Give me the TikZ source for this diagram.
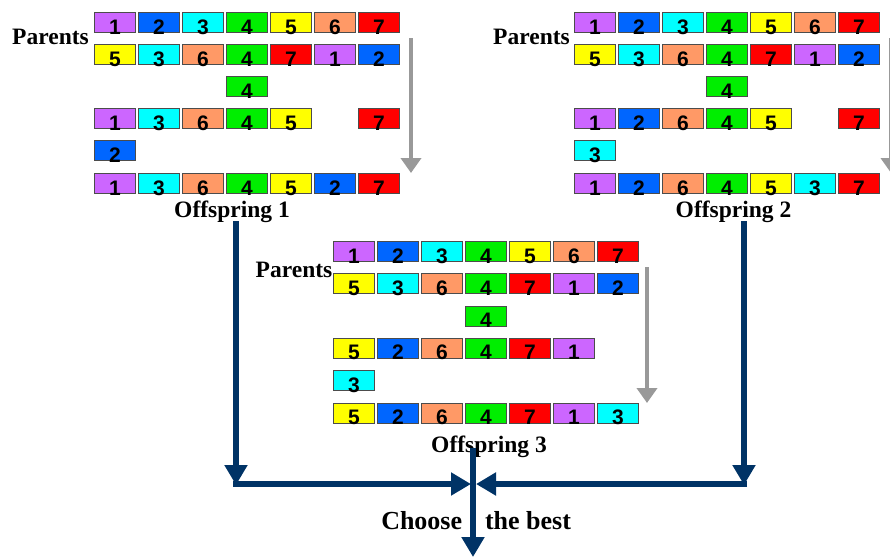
\documentclass[tikz,border=0pt]{standalone}
\usepackage{fontspec}
\setmainfont{Liberation Serif}
\newfontfamily\digitfam{Liberation Sans}
\usetikzlibrary{arrows.meta}
\definecolor{g1}{RGB}{204,102,255}
\definecolor{g2}{RGB}{0,102,255}
\definecolor{g3}{RGB}{0,255,255}
\definecolor{g4}{RGB}{0,238,0}
\definecolor{g5}{RGB}{255,255,0}
\definecolor{g6}{RGB}{255,153,102}
\definecolor{g7}{RGB}{255,0,0}
\definecolor{navy}{RGB}{0,51,102}
\definecolor{arrowgray}{RGB}{153,153,153}
\newcommand\dg[1]{\raisebox{-12pt}[0pt][0pt]{#1}}
\newcommand\garow[5]{%
  \foreach \c/\d in {#5} {
    \node[cell, fill=g\d] (#1-#4-\c) at ({#2+94+44*(\c-1)}, {#3}) {\dg{\d}};
  }}
\tikzset{
  cell/.style={draw=black!70, line width=0.8pt, minimum width=41pt, minimum height=20pt,
    inner sep=0pt, anchor=north west, font=\digitfam\bfseries\fontsize{21}{21}\selectfont},
  lbl/.style={font=\bfseries\fontsize{23.5}{24}\selectfont, inner sep=0pt, anchor=base},
  biglbl/.style={font=\bfseries\fontsize{26}{27}\selectfont, inner sep=0pt, anchor=base},
  grayarrow/.style={draw=arrowgray, line width=4pt, -{Triangle[width=20pt,length=15pt]}},
  navyline/.style={draw=navy, line width=6pt},
  navyarrow/.style={draw=navy, line width=6pt, -{Triangle[width=22pt,length=20pt]}}
}
\begin{document}
\begin{tikzpicture}[x=1pt,y=-1pt]
\useasboundingbox (0,0) rectangle (890,557);
% Block 1
\garow{a}{0}{12}{1}{1/1,2/2,3/3,4/4,5/5,6/6,7/7}
\garow{a}{0}{44}{2}{1/5,2/3,3/6,4/4,5/7,6/1,7/2}
\garow{a}{0}{76}{3}{4/4}
\garow{a}{0}{108}{4}{1/1,2/3,3/6,4/4,5/5,7/7}
\garow{a}{0}{140}{5}{1/2}
\garow{a}{0}{173}{6}{1/1,2/3,3/6,4/4,5/5,6/2,7/7}
% Block 2
\garow{b}{480}{12}{1}{1/1,2/2,3/3,4/4,5/5,6/6,7/7}
\garow{b}{480}{44}{2}{1/5,2/3,3/6,4/4,5/7,6/1,7/2}
\garow{b}{480}{76}{3}{4/4}
\garow{b}{480}{108}{4}{1/1,2/2,3/6,4/4,5/5,7/7}
\garow{b}{480}{140}{5}{1/3}
\garow{b}{480}{173}{6}{1/1,2/2,3/6,4/4,5/5,6/3,7/7}
% Block 3
\garow{c}{239}{241}{1}{1/1,2/2,3/3,4/4,5/5,6/6,7/7}
\garow{c}{239}{273}{2}{1/5,2/3,3/6,4/4,5/7,6/1,7/2}
\garow{c}{239}{305.5}{3}{4/4}
\garow{c}{239}{337.5}{4}{1/5,2/2,3/6,4/4,5/7,6/1}
\garow{c}{239}{370}{5}{1/3}
\garow{c}{239}{402.5}{6}{1/5,2/2,3/6,4/4,5/7,6/1,7/3}
% Labels
\node[lbl] (par1) at (50.5,44) {Parents};
\node[lbl] (par2) at (531.5,44) {Parents};
\node[lbl] (par3) at (294,277) {Parents};
\node[lbl] (off1) at (232,217) {Offspring 1};
\node[lbl] (off2) at (733.5,217) {Offspring 2};
\node[lbl] (off3) at (489,452) {Offspring 3};
\node[biglbl] (choose) at (421.7,529) {Choose};
\node[biglbl] (best) at (528,529) {the best};
% Gray arrows
\coordinate (ga1s) at (411,38);  \coordinate (ga1e) at (411,173);
\coordinate (ga2s) at (891,38);  \coordinate (ga2e) at (891,173);
\coordinate (ga3s) at (647,267); \coordinate (ga3e) at (647,403);
\draw[grayarrow] (ga1s) -- (ga1e);
\draw[grayarrow] (ga2s) -- (ga2e);
\draw[grayarrow] (ga3s) -- (ga3e);
% Navy arrows
\coordinate (l1) at (236,221); \coordinate (l2) at (236,485);
\coordinate (r1) at (744,221); \coordinate (r2) at (744,485);
\coordinate (hl) at (233,484); \coordinate (hlm) at (471,484);
\coordinate (hr) at (747,484); \coordinate (hrm) at (476,484);
\coordinate (m1) at (473,448); \coordinate (m2) at (473,557);
\draw[navyarrow] (l1) -- (l2);
\draw[navyarrow] (r1) -- (r2);
\draw[navyarrow] (hl) -- (hlm);
\draw[navyarrow] (hr) -- (hrm);
\draw[navyarrow] (m1) -- (m2);
\end{tikzpicture}
\end{document}
